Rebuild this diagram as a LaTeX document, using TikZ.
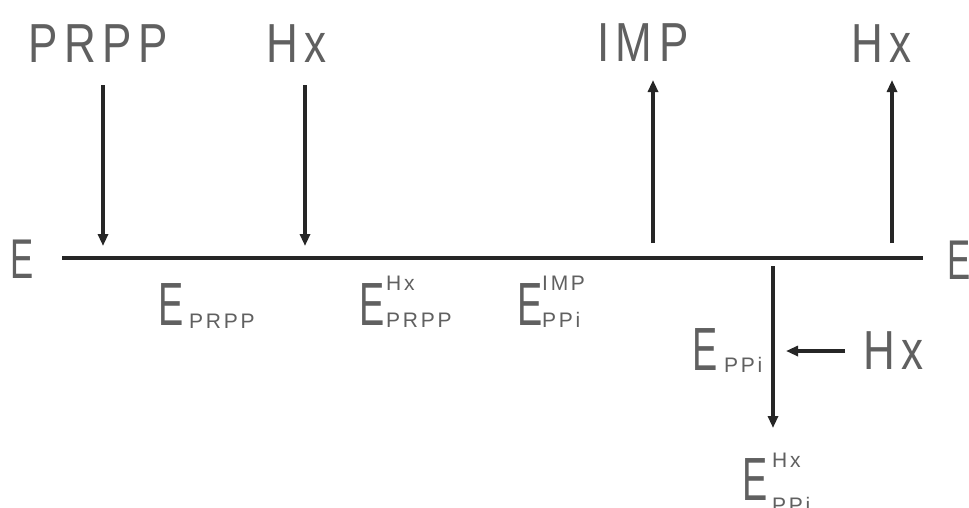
\documentclass[tikz,border=0pt]{standalone}
\usepackage{fontspec}
\setmainfont{Liberation Sans}
% lettering faces: wide-spaced capitals, narrow E, spaced indices
\newfontfamily\letterface{Liberation Sans}[FakeStretch=0.8,LetterSpace=12]
\newfontfamily\eface{Liberation Sans}[FakeStretch=0.62]
\newfontfamily\indexface{Liberation Sans}[LetterSpace=13]
\usetikzlibrary{arrows.meta}
\definecolor{ink}{HTML}{262626}
\definecolor{txt}{HTML}{606060}
\begin{document}
\begin{tikzpicture}[x=1pt,y=-1pt,
  lbl/.style={inner sep=0pt,anchor=base west,text=txt,font=\letterface\fontsize{55}{60}\selectfont},
  freeE/.style={inner sep=0pt,anchor=base west,text=txt,font=\eface\fontsize{56}{60}\selectfont},
  bigE/.style={inner sep=0pt,anchor=base west,text=txt,font=\eface\fontsize{61}{64}\selectfont},
  idx/.style={inner sep=0pt,anchor=base west,text=txt,text height=15pt,text depth=0pt,
    font=\indexface\fontsize{21}{22}\selectfont},
  flow/.style={draw=ink,line width=3.2pt,-{Triangle[length=12pt,width=10pt]}},
  axis/.style={draw=ink,line width=3.5pt}]
\useasboundingbox (0,0) rectangle (969,507);
\fill[white] (0,0) rectangle (969,507);

% species entering and leaving the enzyme line
\node[lbl] (prpp)   at (28,62)  {PRPP};
\node[lbl] (hxin)   at (266,62) {Hx};
\node[lbl] (imp)    at (597,61) {IMP};
\node[lbl] (hxout)  at (851,62) {Hx};
\node[lbl] (hxside) at (863,369) {Hx};

% free enzyme at both ends
\node[freeE] (eleft)  at (10,278) {E};
\node[freeE] (eright) at (947,279) {E};

% enzyme complexes
\node[bigE] (c1)  at (158,325) {E};
\node[idx]  (c1s) at (189,328) {PRPP};
\node[bigE] (c2)  at (359,325) {E};
\node[idx]  (c2p) at (386,290) {Hx};
\node[idx]  (c2s) at (386,327) {PRPP};
\node[bigE] (c3)  at (517,325) {E};
\node[idx]  (c3p) at (542,290) {IMP};
\node[idx]  (c3s) at (542,327) {PPi};
\node[bigE] (c4)  at (692,370) {E};
\node[idx]  (c4s) at (724,372) {PPi};
\node[bigE] (c5)  at (742,500) {E};
\node[idx]  (c5p) at (772,467) {Hx};
\node[idx]  (c5s) at (772,512) {PPi};

% reaction line
\coordinate (lstart) at (62,258);
\coordinate (lend)   at (923,258);
\draw[axis] (lstart) -- (lend);

% arrow end points
\coordinate (a1top) at (103,85);  \coordinate (a1bot) at (103,246);
\coordinate (a2top) at (305,85);  \coordinate (a2bot) at (305,246);
\coordinate (a3top) at (653,80);  \coordinate (a3bot) at (653,243);
\coordinate (a4top) at (892,80);  \coordinate (a4bot) at (892,243);
\coordinate (a5top) at (773,266); \coordinate (a5bot) at (773,428);
\coordinate (a6from) at (845,351); \coordinate (a6to) at (786,351);

\draw[flow] (a1top) -- (a1bot);
\draw[flow] (a2top) -- (a2bot);
\draw[flow] (a3bot) -- (a3top);
\draw[flow] (a4bot) -- (a4top);
\draw[flow] (a5top) -- (a5bot);
\draw[flow] (a6from) -- (a6to);
\end{tikzpicture}
\end{document}
